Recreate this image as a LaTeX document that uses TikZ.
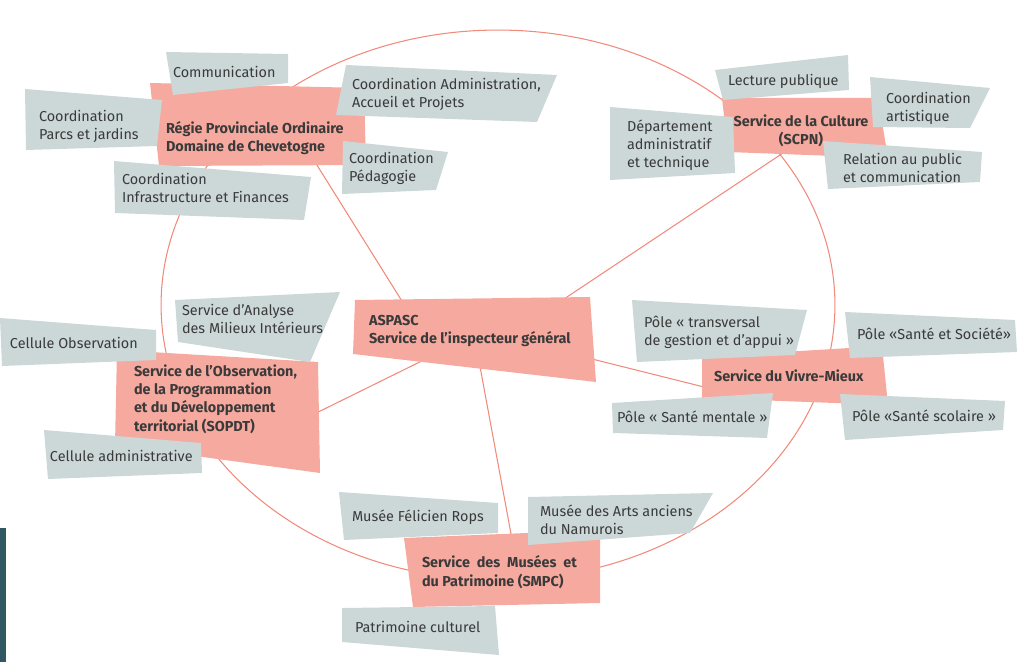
\documentclass[tikz,border=0pt]{standalone}
\usepackage{fontspec}
\setmainfont{Fira Sans}
\usepackage{tkz-graph}
\usetikzlibrary{arrows}
\usetikzlibrary{shapes}

\definecolor{pinkBox}{HTML}{F6A99E}
\definecolor{greyBox}{HTML}{CCD7D8}
\definecolor{ringLine}{HTML}{F08A7B}
\definecolor{inkText}{HTML}{3A3A3A}
\definecolor{barTeal}{HTML}{2F5862}

\begin{document}
\begin{tikzpicture}[x = 0.02cm, y = -0.02cm]
	\tikzstyle{VertexStyle} = []
	\tikzstyle{EdgeStyle} = [draw = ringLine, line width = 0.6pt]
	\tikzstyle{LabelStyle} = []
	\tikzstyle{pinkStyle} = [fill = pinkBox]
	\tikzstyle{greyStyle} = [fill = greyBox]
	\tikzstyle{textStyle} = [anchor = west, align = left, inner sep = 0pt, text = inkText, font = \fontsize{8.2}{10.2}\selectfont]
	\tikzstyle{headStyle} = [textStyle, font = \fontsize{8.2}{10.4}\selectfont\bfseries]
	\useasboundingbox (0,0) rectangle (1024,662);
	\fill[barTeal] (0,528) rectangle (6,662);
	\draw[ringLine, line width = 0.6pt] (498,305) ellipse [x radius = 6.74cm, y radius = 5.5cm];
	\coordinate (regieEnd) at (300,138);
	\coordinate (cultureEnd) at (795,145);
	\coordinate (sopdtEnd) at (300,421);
	\coordinate (vivreEnd) at (740,396);
	\coordinate (smpcEnd) at (514,550);
	\coordinate (hubRegie) at (415,322);
	\coordinate (hubCulture) at (540,315);
	\coordinate (hubSopdt) at (440,352);
	\coordinate (hubVivre) at (560,351);
	\coordinate (hubSmpc) at (476,345);
	\Edge(hubRegie)(regieEnd)
	\Edge(hubCulture)(cultureEnd)
	\Edge(hubSopdt)(sopdtEnd)
	\Edge(hubVivre)(vivreEnd)
	\Edge(hubSmpc)(smpcEnd)
	\fill[pinkStyle] (150,83) -- (364,88) -- (366,165) -- (159,166) -- cycle;
	\fill[pinkStyle] (722,98) -- (878,98) -- (888,158) -- (728,152) -- cycle;
	\fill[pinkStyle] (355,300) -- (590,297) -- (596,382) -- (353,354) -- cycle;
	\fill[pinkStyle] (117,350) -- (318,362) -- (320,473) -- (115,445) -- cycle;
	\fill[pinkStyle] (702,357) -- (882,346) -- (888,405) -- (702,398) -- cycle;
	\fill[pinkStyle] (404,538) -- (600,530) -- (600,603) -- (413,607) -- cycle;
	\fill[greyStyle] (166,52) -- (288,54) -- (288,83) -- (173,95) -- cycle;
	\fill[greyStyle] (25,89) -- (162,100) -- (157,146) -- (26,150) -- cycle;
	\fill[greyStyle] (346,65) -- (557,75) -- (537,122) -- (336,115) -- cycle;
	\fill[greyStyle] (343,141) -- (448,152) -- (436,190) -- (342,194) -- cycle;
	\fill[greyStyle] (114,161) -- (311,177) -- (304,220) -- (115,213) -- cycle;
	\fill[greyStyle] (715,70) -- (848,55) -- (849,90) -- (723,100) -- cycle;
	\fill[greyStyle] (870,77) -- (990,88) -- (970,128) -- (873,127) -- cycle;
	\fill[greyStyle] (610,107) -- (733,117) -- (735,173) -- (610,180) -- cycle;
	\fill[greyStyle] (823,141) -- (982,152) -- (980,182) -- (828,189) -- cycle;
	\fill[greyStyle] (175,300) -- (340,292) -- (310,362) -- (178,342) -- cycle;
	\fill[greyStyle] (0,318) -- (156,330) -- (156,360) -- (2,366) -- cycle;
	\fill[greyStyle] (44,430) -- (201,443) -- (202,473) -- (48,479) -- cycle;
	\fill[greyStyle] (632,300) -- (807,310) -- (795,355) -- (637,362) -- cycle;
	\fill[greyStyle] (845,312) -- (1015,320) -- (1017,352) -- (850,358) -- cycle;
	\fill[greyStyle] (612,403) -- (773,393) -- (767,438) -- (613,433) -- cycle;
	\fill[greyStyle] (840,394) -- (1005,401) -- (1003,430) -- (845,440) -- cycle;
	\fill[greyStyle] (339,492) -- (498,503) -- (498,533) -- (344,540) -- cycle;
	\fill[greyStyle] (528,497) -- (713,493) -- (690,533) -- (528,545) -- cycle;
	\fill[greyStyle] (342,608) -- (495,606) -- (499,655) -- (342,642) -- cycle;
	\Vertex[style = headStyle, x = 166, y = 138, L = {Régie Provinciale Ordinaire\\Domaine de Chevetogne}]{regie}
	\Vertex[style = {headStyle, anchor = center, align = center}, x = 801, y = 131, L = {Service de la Culture\\(SCPN)}]{culture}
	\Vertex[style = headStyle, x = 369, y = 331, L = {ASPASC\\Service de l'inspecteur général}]{aspasc}
	\Vertex[style = headStyle, x = 134, y = 399, L = {Service de l'Observation,\\de la Programmation\\et du Développement\\territorial (SOPDT)}]{sopdt}
	\Vertex[style = headStyle, x = 714, y = 376, L = {Service du Vivre-Mieux}]{vivre}
	\Vertex[style = headStyle, x = 422, y = 572, L = {Service\ \ des\ \ Musées\ \ et\\du Patrimoine (SMPC)}]{smpc}
	\Vertex[style = textStyle, x = 173, y = 72, L = {Communication}]{comm}
	\Vertex[style = textStyle, x = 39, y = 126, L = {Coordination\\Parcs et jardins}]{parcs}
	\Vertex[style = textStyle, x = 352, y = 94, L = {Coordination Administration,\\Accueil et Projets}]{admin}
	\Vertex[style = textStyle, x = 349, y = 168, L = {Coordination\\Pédagogie}]{peda}
	\Vertex[style = textStyle, x = 122, y = 188, L = {Coordination\\Infrastructure et Finances}]{infra}
	\Vertex[style = textStyle, x = 728, y = 81, L = {Lecture publique}]{lecture}
	\Vertex[style = textStyle, x = 886, y = 108, L = {Coordination\\artistique}]{artist}
	\Vertex[style = textStyle, x = 627, y = 145, L = {Département\\administratif\\et technique}]{dept}
	\Vertex[style = textStyle, x = 843, y = 168, L = {Relation au public\\et communication}]{relation}
	\Vertex[style = textStyle, x = 182, y = 319, L = {Service d'Analyse\\des Milieux Intérieurs}]{analyse}
	\Vertex[style = textStyle, x = 10, y = 343, L = {Cellule Observation}]{cellObs}
	\Vertex[style = textStyle, x = 50, y = 456, L = {Cellule administrative}]{cellAdm}
	\Vertex[style = textStyle, x = 644, y = 332, L = {Pôle « transversal\\de gestion et d'appui »}]{transv}
	\Vertex[style = textStyle, x = 857, y = 334, L = {Pôle «Santé et Société»}]{societe}
	\Vertex[style = textStyle, x = 617, y = 417, L = {Pôle « Santé mentale »}]{mentale}
	\Vertex[style = textStyle, x = 852, y = 416, L = {Pôle «Santé scolaire »}]{scolaire}
	\Vertex[style = textStyle, x = 352, y = 517, L = {Musée Félicien Rops}]{rops}
	\Vertex[style = textStyle, x = 540, y = 520, L = {Musée des Arts anciens\\du Namurois}]{arts}
	\Vertex[style = textStyle, x = 355, y = 627, L = {Patrimoine culturel}]{patri}
\end{tikzpicture}
\end{document}
